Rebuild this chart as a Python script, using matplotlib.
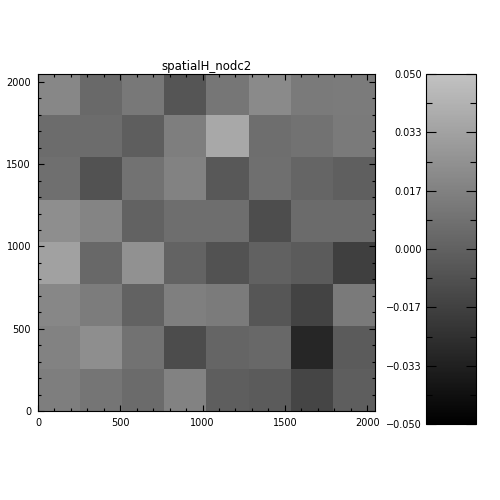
import numpy as np
import matplotlib
matplotlib.use('Agg')
import matplotlib.pyplot as plt
from matplotlib.colors import LinearSegmentedColormap

# cell values (8x8 grid, top row first), 256-pixel blocks
row_7 = [0.0196, 0.0046, 0.0119, -0.0062, 0.0113, 0.0211, 0.0129, 0.0139]
row_6 = [0.0062, 0.0062, -0.0015, 0.0149, 0.0371, 0.0072, 0.0088, 0.0129]
row_5 = [0.0077, -0.0077, 0.0093, 0.0175, -0.0046, 0.0077, 0.0021, -0.0010]
row_4 = [0.0232, 0.0180, 0.0005, 0.0067, 0.0067, -0.0098, 0.0052, 0.0052]
row_3 = [0.0335, 0.0041, 0.0253, 0.0015, -0.0072, 0.0000, -0.0026, -0.0175]
row_2 = [0.0196, 0.0144, 0.0005, 0.0160, 0.0134, -0.0052, -0.0149, 0.0129]
row_1 = [0.0175, 0.0237, 0.0088, -0.0103, 0.0026, 0.0036, -0.0304, -0.0031]
row_0 = [0.0149, 0.0103, 0.0052, 0.0175, -0.0015, -0.0031, -0.0139, -0.0015]

grid = np.array([row_7, row_6, row_5, row_4, row_3, row_2, row_1, row_0])
vmin, vmax = -0.05, 0.05
cbar_ticks = [-0.05, -0.0333, -0.0167, 0.0, 0.0167, 0.0333, 0.05]
cbar_labels = ["\u22120.050", "\u22120.033", "\u22120.017", "0.000", "0.017", "0.033", "0.050"]

plt.rcParams['font.family'] = ['DejaVu Sans']
cmap = LinearSegmentedColormap.from_list('idlgray', [(0, 0, 0), (0.76, 0.76, 0.76)])

fig = plt.figure(figsize=(5, 5), dpi=100)
ax = fig.add_axes([0.076, 0.178, 0.674, 0.674])
im = ax.imshow(grid, cmap=cmap, vmin=vmin, vmax=vmax, origin='upper',
               extent=[0, 2048, 0, 2048], interpolation='nearest', aspect='auto')
ax.set_xlim(0, 2048); ax.set_ylim(0, 2048)
ax.set_xticks([0, 500, 1000, 1500, 2000])
ax.set_yticks([0, 500, 1000, 1500, 2000])
ax.set_xticks(np.arange(0, 2048, 100), minor=True)
ax.set_yticks(np.arange(0, 2048, 100), minor=True)
ax.tick_params(which='both', direction='in', top=True, right=True, labelsize=7, width=0.8)
ax.tick_params(which='major', length=4.5, pad=5)
ax.tick_params(which='minor', length=2.5)
for s in ax.spines.values():
    s.set_linewidth(0.8)
ax.set_title("spatialH_nodc2", fontsize=8.5, pad=3)

cax = fig.add_axes([0.852, 0.152, 0.1, 0.70])
cb = fig.colorbar(im, cax=cax)
cb.outline.set_linewidth(0.8)
cax.yaxis.set_ticks_position('both')
cax.yaxis.set_label_position('left')
cax.set_yticks(cbar_ticks)
cax.set_yticklabels(cbar_labels)
cax.set_yticks([(a + b) / 2 for a, b in zip(cbar_ticks[:-1], cbar_ticks[1:])], minor=True)
cax.tick_params(which='both', direction='in', left=True, right=True,
                labelleft=True, labelright=False, labelsize=7, width=0.8, pad=3)
cax.tick_params(which='major', length=7)
cax.tick_params(which='minor', length=4)

fig.savefig("out.png", dpi=100)
